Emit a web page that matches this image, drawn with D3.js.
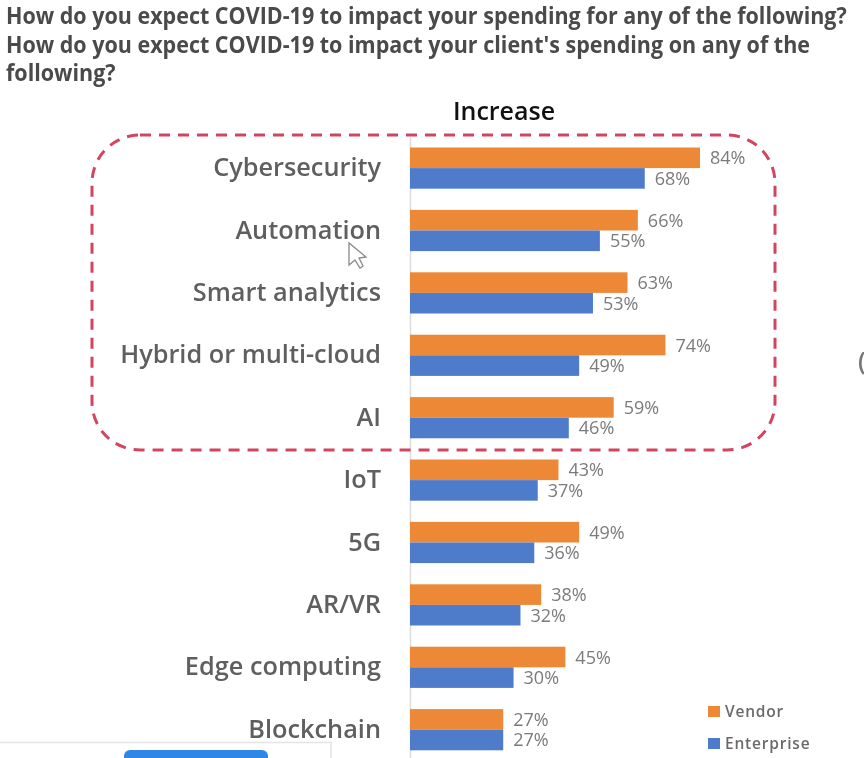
<!DOCTYPE html>
<html>
<head>
<meta charset="utf-8">
<script src="https://cdnjs.cloudflare.com/ajax/libs/d3/7.8.5/d3.min.js"></script>
<style>
  html, body { margin: 0; padding: 0; background: #fff; }
  svg { display: block; filter: blur(0.6px); }
  text { font-family: "Open Sans", "Noto Sans", sans-serif; }
</style>
</head>
<body>
<div id="chart"></div>
<script>
const categories = ['Cybersecurity', 'Automation', 'Smart analytics', 'Hybrid or multi-cloud', 'AI',
    'IoT', '5G', 'AR/VR', 'Edge computing', 'Blockchain'];
const vendor = [84, 66, 63, 74, 59, 43, 49, 38, 45, 27];
const enterprise = [68, 55, 53, 49, 46, 37, 36, 32, 30, 27];
const seriesNames = ['Vendor', 'Enterprise'];
const seriesColors = ['#ed8936', '#4f7cca'];
const titleLines = [
    'How do you expect COVID-19 to impact your spending for any of the following?',
    "How do you expect COVID-19 to impact your client's spending on any of the",
    'following?',
];

const width = 864;
const height = 758;

const svg = d3.select('#chart')
    .append('svg')
    .attr('width', width)
    .attr('height', height);

const x = d3.scaleLinear().domain([0, 84]).range([410, 700]);
const y = d3.scaleBand()
    .domain(categories)
    .range([136.9, 760.9])
    .paddingInner(0.34)
    .paddingOuter(0.17);
const inner = d3.scaleBand().domain(seriesNames).range([0, y.bandwidth()]);

// question text, squeezed a bit because the slide font is narrow
svg.append('g')
    .selectAll('text')
    .data(titleLines)
    .join('text')
    .attr('transform', (_, i) => `translate(6,${24 + i * 28.5}) scale(0.915,1)`)
    .attr('font-size', 23.5)
    .attr('font-weight', 700)
    .attr('fill', '#4a4a4a')
    .text((d) => d);

svg.append('text')
    .attr('x', 504)
    .attr('y', 120)
    .attr('text-anchor', 'middle')
    .attr('font-size', 25)
    .attr('font-weight', 600)
    .attr('fill', '#111')
    .text('Increase');

// category axis
const axis = svg.append('g')
    .attr('transform', 'translate(410,0)')
    .call(d3.axisLeft(y).tickSize(0).tickPadding(29));
axis.select('.domain').attr('stroke', '#dcdcdc').attr('stroke-width', 1.5);
axis.selectAll('text')
    .attr('font-size', 25.3)
    .attr('font-weight', 600)
    .attr('font-family', '"Open Sans", sans-serif')
    .attr('fill', '#5f5f5f');

// bars and value labels
const series = [vendor, enterprise];
series.forEach((values, s) => {
    const name = seriesNames[s];
    svg.append('g')
        .selectAll('rect')
        .data(values)
        .join('rect')
        .attr('x', x(0))
        .attr('y', (_, i) => y(categories[i]) + inner(name))
        .attr('width', (d) => x(d) - x(0))
        .attr('height', inner.bandwidth())
        .attr('fill', seriesColors[s]);

    svg.append('g')
        .selectAll('text')
        .data(values)
        .join('text')
        .attr('x', (d) => x(d) + 10)
        .attr('y', (_, i) => y(categories[i]) + inner(name) + inner.bandwidth() / 2 + 6.5)
        .attr('font-size', 18)
        .attr('fill', '#7b7b7b')
        .text((d) => `${d}%`);
});

// dashed highlight round the top five rows
svg.append('rect')
    .attr('x', 92)
    .attr('y', 135)
    .attr('width', 683)
    .attr('height', 315)
    .attr('rx', 48)
    .attr('fill', 'none')
    .attr('stroke', '#d2455f')
    .attr('stroke-width', 3)
    .attr('stroke-dasharray', '11 8');

// legend
const legend = svg.append('g')
    .selectAll('g')
    .data(seriesNames)
    .join('g')
    .attr('transform', (_, i) => `translate(708,${706 + i * 32})`);
legend.append('rect')
    .attr('width', 12)
    .attr('height', 11)
    .attr('fill', (_, i) => seriesColors[i]);
legend.append('text')
    .attr('x', 17)
    .attr('y', 11)
    .attr('font-size', 15.5)
    .attr('font-weight', 600)
    .attr('letter-spacing', 0.8)
    .attr('fill', '#6a6a6a')
    .text((d) => d);

// bits of the screen recording around the slide
svg.append('path')
    .attr('d', 'M0,742.5H331V758')
    .attr('fill', 'none')
    .attr('stroke', '#e4e4e4')
    .attr('stroke-width', 1.5);
svg.append('rect')
    .attr('x', 124)
    .attr('y', 750)
    .attr('width', 144)
    .attr('height', 16)
    .attr('rx', 6)
    .attr('fill', '#2f86e6');
svg.append('path')
    .attr('d', 'M349,243V265L355,260L360,268L363,266L359,258L366,257Z')
    .attr('fill', '#fff')
    .attr('stroke', '#8a8a8a')
    .attr('stroke-width', 1.3);
svg.append('text')
    .attr('x', 858)
    .attr('y', 370)
    .attr('font-size', 25)
    .attr('font-weight', 600)
    .attr('fill', '#777')
    .text('(');
</script>
</body>
</html>
